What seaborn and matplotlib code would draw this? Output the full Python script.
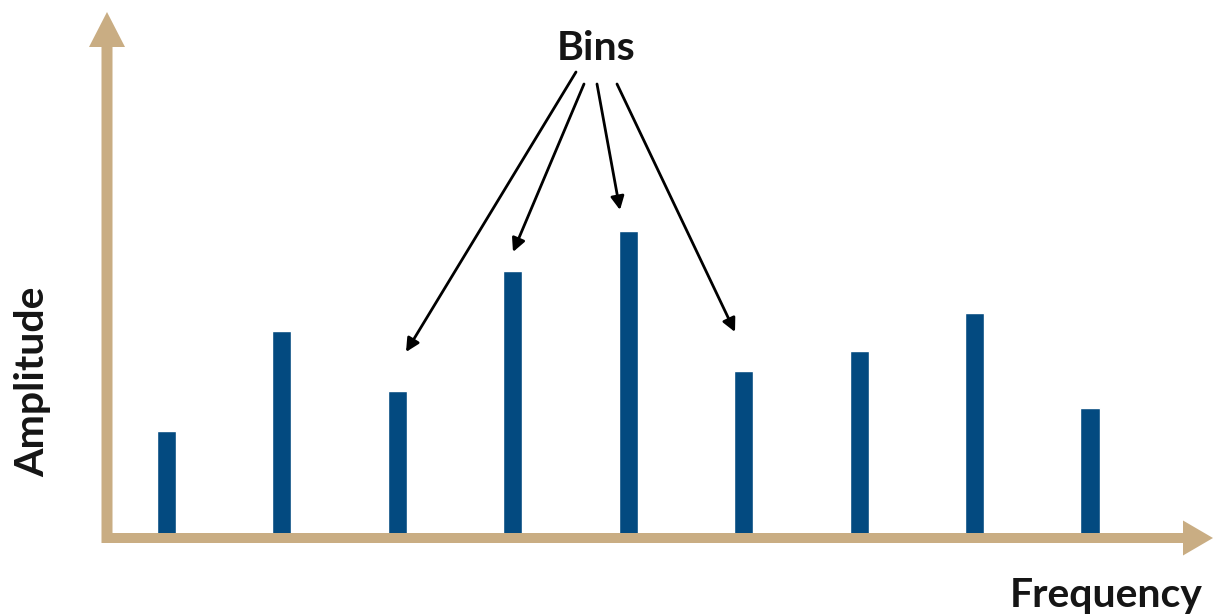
import matplotlib
matplotlib.use("Agg")
import matplotlib.pyplot as plt
import seaborn as sns
import pandas as pd
from matplotlib.patches import FancyArrow

# data (bar heights in pixels above the baseline)
bins = ["b1", "b2", "b3", "b4", "b5", "b6", "b7", "b8", "b9"]
amplitude = [107, 207, 147, 267, 307, 167, 187, 225, 130]

bar_color = "#034a80"
axis_color = "#c9ad83"

sns.set_theme(style="white")
plt.rcParams["font.family"] = ["Lato", "DejaVu Sans"]

fig = plt.figure(figsize=(12.14, 6.16), dpi=100)
ax = fig.add_axes([0, 0, 1, 1])

df = pd.DataFrame({"bin": bins, "amp": amplitude})
sns.barplot(data=df, x="bin", y="amp", color=bar_color, saturation=1,
            width=0.165, ax=ax, zorder=2)

# pixel mapping: bin 0 at x=166.5, spacing 115.4, baseline at y=538
step = 115.44
ax.set_xlim(-166.5 / step, (1214 - 166.5) / step)
ax.set_ylim(-(616 - 538), 538)
ax.axis("off")

# overlay in pixel coordinates for the axis arrows and labels
ov = fig.add_axes([0, 0, 1, 1], zorder=3)
ov.set_xlim(0, 1214)
ov.set_ylim(616, 0)
ov.axis("off")
ov.patch.set_alpha(0)

ov.add_patch(FancyArrow(102, 538, 1111, 0, width=10, head_width=35,
                        head_length=30, length_includes_head=True,
                        color=axis_color, lw=0))
ov.add_patch(FancyArrow(107, 543, 0, -531, width=11, head_width=36,
                        head_length=35, length_includes_head=True,
                        color=axis_color, lw=0))

txt = dict(fontsize=29.5, fontweight="bold", color="#151515")
ov.text(596, 48, "Bins", ha="center", va="center", **txt)
ov.text(33, 382, "Amplitude", ha="center", va="center", rotation=90, **txt)
ov.text(1106, 596, "Frequency", ha="center", va="center", **txt)

starts = [(576, 72), (584, 84), (597, 84), (617, 84)]
tips = [(406, 352), (513, 252), (620, 210), (735, 332)]
for (sx, sy), (tx, ty) in zip(starts, tips):
    ov.annotate("", xy=(tx, ty), xytext=(sx, sy),
                arrowprops=dict(arrowstyle="-|>", color="black", lw=2,
                                mutation_scale=20, shrinkA=0, shrinkB=0))

fig.savefig("out.png", dpi=100)
